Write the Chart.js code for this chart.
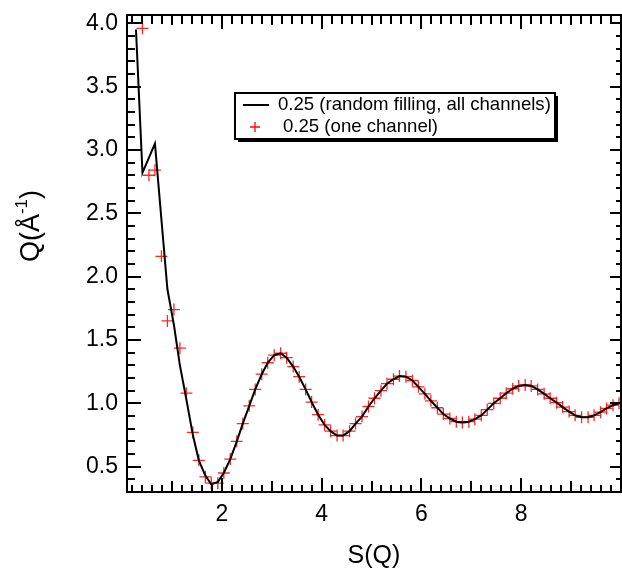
<!DOCTYPE html>
<html>
<head>
<meta charset="utf-8">
<script src="https://cdn.jsdelivr.net/npm/chart.js@4.4.1/dist/chart.umd.min.js"></script>
<style>
html,body{margin:0;padding:0;background:#fff;overflow:hidden;}
#wrap{width:622px;height:572px;}
canvas{display:block;}
</style>
</head>
<body>
<div id="wrap"><canvas id="c" width="622" height="572"></canvas></div>
<script>
// ---- data ----
const seriesLabels = ['0.25 (random filling, all channels)', '0.25 (one channel)'];

const lineX = [0.28, 0.41, 0.54, 0.66, 0.79, 0.91, 1.04, 1.16, 1.29, 1.42, 1.54, 1.67, 1.79, 1.92,
  2.04, 2.17, 2.30, 2.42, 2.55, 2.67, 2.80, 2.92, 3.05, 3.18, 3.30, 3.43, 3.55, 3.68, 3.80, 3.93,
  4.06, 4.18, 4.31, 4.43, 4.56, 4.68, 4.81, 4.94, 5.06, 5.19, 5.31, 5.44, 5.56, 5.69, 5.82, 5.94,
  6.07, 6.19, 6.32, 6.44, 6.57, 6.70, 6.82, 6.95, 7.07, 7.20, 7.32, 7.45, 7.58, 7.70, 7.83, 7.95,
  8.08, 8.20, 8.33, 8.46, 8.58, 8.71, 8.83, 8.96, 9.08, 9.21, 9.34, 9.46, 9.59, 9.71, 9.84, 9.96];
const lineY = [3.95, 2.82, 2.94, 3.05, 2.45, 1.90, 1.62, 1.30, 1.03, 0.75, 0.55, 0.43, 0.36, 0.38,
  0.45, 0.56, 0.70, 0.84, 0.98, 1.11, 1.23, 1.32, 1.38, 1.395, 1.36, 1.29, 1.21, 1.11, 1.01, 0.91,
  0.83, 0.78, 0.745, 0.745, 0.78, 0.84, 0.895, 0.975, 1.04, 1.10, 1.155, 1.19, 1.215, 1.21, 1.18, 1.13,
  1.075, 1.02, 0.965, 0.915, 0.88, 0.855, 0.848, 0.855, 0.875, 0.905, 0.95, 1.00, 1.04, 1.08, 1.115, 1.137,
  1.145, 1.137, 1.11, 1.075, 1.04, 1.005, 0.97, 0.935, 0.905, 0.89, 0.89, 0.905, 0.93, 0.96, 0.985, 1.00];

const markX = [0.41, 0.54, 0.66, 0.79, 0.91, 1.04, 1.16, 1.29, 1.42, 1.54, 1.67, 1.79, 1.92,
  2.04, 2.17, 2.30, 2.42, 2.55, 2.67, 2.80, 2.92, 3.05, 3.18, 3.30, 3.43, 3.55, 3.68, 3.80, 3.93,
  4.06, 4.18, 4.31, 4.43, 4.56, 4.68, 4.81, 4.94, 5.06, 5.19, 5.31, 5.44, 5.56, 5.69, 5.82, 5.94,
  6.07, 6.19, 6.32, 6.44, 6.57, 6.70, 6.82, 6.95, 7.07, 7.20, 7.32, 7.45, 7.58, 7.70, 7.83, 7.95,
  8.08, 8.20, 8.33, 8.46, 8.58, 8.71, 8.83, 8.96, 9.08, 9.21, 9.34, 9.46, 9.59, 9.71, 9.84, 9.96];
const markY = [3.96, 2.80, 2.84, 2.16, 1.65, 1.74, 1.435, 1.08, 0.77, 0.55, 0.42, 0.37, 0.37,
  0.45, 0.56, 0.70, 0.84, 0.98, 1.11, 1.23, 1.32, 1.38, 1.395, 1.36, 1.29, 1.21, 1.11, 1.01, 0.91,
  0.83, 0.78, 0.745, 0.745, 0.78, 0.84, 0.895, 0.975, 1.04, 1.10, 1.155, 1.19, 1.215, 1.21, 1.18, 1.13,
  1.075, 1.02, 0.965, 0.915, 0.88, 0.855, 0.848, 0.855, 0.875, 0.905, 0.95, 1.00, 1.04, 1.08, 1.115, 1.137,
  1.145, 1.137, 1.11, 1.075, 1.04, 1.005, 0.97, 0.935, 0.905, 0.89, 0.89, 0.905, 0.93, 0.96, 0.985, 1.00];

const xTickValues = [2, 4, 6, 8];
const yTickValues = [0.5, 1.0, 1.5, 2.0, 2.5, 3.0, 3.5, 4.0];
const xTitle = 'S(Q)';
const yTitleMain = 'Q(Å';
const yTitleSup = '-1';
const yTitleEnd = ')';

// ---- chart ----
const FONT = "'Liberation Sans', Arial, Helvetica, sans-serif";

const framePlugin = {
  id: 'frameTicks',
  afterDraw(chart) {
    const ctx = chart.ctx, a = chart.chartArea;
    const xs = chart.scales.x, ys = chart.scales.y;
    ctx.save();
    ctx.strokeStyle = '#000';
    ctx.lineWidth = 2;
    ctx.lineCap = 'butt';
    ctx.beginPath();
    ctx.rect(a.left, a.top, a.right - a.left, a.bottom - a.top);
    ctx.stroke();
    ctx.beginPath();
    for (let k = 1; k < 50; k++) {
      const v = k / 5;
      const px = Math.round(xs.getPixelForValue(v));
      let lb, lt;
      if (k % 10 === 0) { lb = 14; lt = 14; }
      else if (k % 5 === 0) { lb = 11; lt = 10; }
      else { lb = 7; lt = 9; }
      ctx.moveTo(px, a.bottom); ctx.lineTo(px, a.bottom - lb);
      ctx.moveTo(px, a.top); ctx.lineTo(px, a.top + lt);
    }
    for (let k = 3; k <= 40; k++) {
      const v = k / 10;
      const py = Math.round(ys.getPixelForValue(v));
      const major = k % 5 === 0;
      ctx.moveTo(a.left, py); ctx.lineTo(a.left + (major ? 14 : 8), py);
      ctx.moveTo(a.right, py); ctx.lineTo(a.right - (major ? 11 : 5), py);
    }
    ctx.stroke();

    // y-axis title with superscript
    ctx.fillStyle = '#000';
    ctx.textBaseline = 'alphabetic';
    ctx.textAlign = 'left';
    const mainFont = '27px ' + FONT, supFont = '17px ' + FONT;
    ctx.font = mainFont;
    const w1 = ctx.measureText(yTitleMain).width;
    const w3 = ctx.measureText(yTitleEnd).width;
    ctx.font = supFont;
    const w2 = ctx.measureText(yTitleSup).width;
    const W = w1 + w2 + w3;
    ctx.translate(39, 226);
    ctx.rotate(-Math.PI / 2);
    let x0 = -W / 2;
    ctx.font = mainFont; ctx.fillText(yTitleMain, x0, 0);
    ctx.font = supFont; ctx.fillText(yTitleSup, x0 + w1, -12);
    ctx.font = mainFont; ctx.fillText(yTitleEnd, x0 + w1 + w2, 0);
    ctx.restore();

    // legend box
    ctx.save();
    const bx = 235, by = 93, bw = 320, bh = 46;
    ctx.fillStyle = '#000';
    ctx.fillRect(bx + 3, by + 3, bw, bh);
    ctx.fillStyle = '#fff';
    ctx.fillRect(bx, by, bw, bh);
    ctx.strokeStyle = '#000';
    ctx.lineWidth = 2;
    ctx.strokeRect(bx, by, bw, bh);
    const ds = chart.data.datasets;
    ctx.lineWidth = 2;
    ctx.beginPath(); ctx.moveTo(243, 105); ctx.lineTo(269, 105); ctx.stroke();
    ctx.strokeStyle = '#ff0000';
    ctx.lineWidth = 1.3;
    ctx.beginPath(); ctx.moveTo(250, 127); ctx.lineTo(260, 127); ctx.moveTo(255, 122); ctx.lineTo(255, 132); ctx.stroke();
    ctx.fillStyle = '#000';
    ctx.font = '18.6px ' + FONT;
    ctx.textBaseline = 'middle';
    ctx.textAlign = 'left';
    ctx.fillText(ds[0].label, 278, 105);
    ctx.fillText(ds[1].label, 283, 127);
    ctx.restore();
  }
};

const zeroPad = s => { s.paddingTop = 0; s.paddingBottom = 0; s.paddingLeft = 0; s.paddingRight = 0; };

new Chart(document.getElementById('c'), {
  type: 'scatter',
  data: {
    datasets: [
      {
        label: seriesLabels[0],
        data: lineX.map((x, i) => ({x: x, y: lineY[i]})),
        showLine: true,
        borderColor: '#000',
        borderWidth: 2,
        pointRadius: 0,
        tension: 0
      },
      {
        label: seriesLabels[1],
        data: markX.map((x, i) => ({x: x, y: markY[i]})),
        showLine: false,
        pointStyle: 'cross',
        pointRadius: 6,
        pointBorderWidth: 1.3,
        borderColor: 'rgba(255,0,0,0.85)',
        backgroundColor: 'rgba(255,0,0,0.85)'
      }
    ]
  },
  options: {
    responsive: false,
    animation: false,
    devicePixelRatio: 1,
    layout: {autoPadding: false, padding: {top: 15, right: 1, left: 0, bottom: 0}},
    plugins: {legend: {display: false}, tooltip: {enabled: false}},
    scales: {
      x: {
        type: 'linear', min: 0.1, max: 10,
        grid: {display: false, drawTicks: false},
        border: {display: false},
        afterBuildTicks: s => { s.ticks = xTickValues.map(v => ({value: v})); },
        afterFit: s => { s.height = 80; zeroPad(s); },
        ticks: {
          padding: 9, color: '#000', font: {family: FONT, size: 23},
          maxRotation: 0, autoSkip: false,
          callback: v => String(v)
        },
        title: {display: true, text: xTitle, color: '#000', font: {family: FONT, size: 25}, padding: {top: 0, bottom: 1}}
      },
      y: {
        type: 'linear', min: 0.3, max: 4.065,
        grid: {display: false, drawTicks: false},
        border: {display: false},
        afterBuildTicks: s => { s.ticks = yTickValues.map(v => ({value: v})); },
        afterFit: s => { s.width = 127; zeroPad(s); },
        ticks: {
          padding: 9, color: '#000', font: {family: FONT, size: 23},
          autoSkip: false,
          callback: v => Number(v).toFixed(1)
        }
      }
    }
  },
  plugins: [framePlugin]
});
</script>
</body>
</html>
